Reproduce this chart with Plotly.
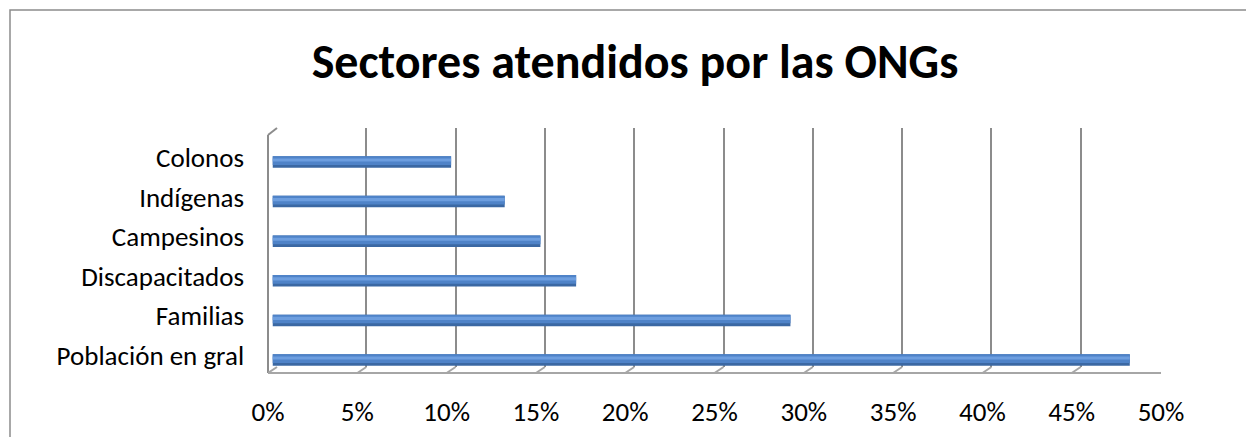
import plotly.graph_objects as go

categories = ["Población en gral", "Familias", "Discapacitados", "Campesinos", "Indígenas", "Colonos"]
values = [0.48, 0.29, 0.17, 0.15, 0.13, 0.10]
tick_vals = [0.0, 0.05, 0.10, 0.15, 0.20, 0.25, 0.30, 0.35, 0.40, 0.45, 0.50]
tick_text = ["0%", "5%", "10%", "15%", "20%", "25%", "30%", "35%", "40%", "45%", "50%"]
title_text = "Sectores atendidos por las ONGs"

W, H = 1246, 437
FONT = "Carlito, Lato, sans-serif"
GRID = "#8c8c8c"
FLOOR = "#a6a6a6"


def px(x):
    return x / W


def py(y):
    return 1 - y / H


fig = go.Figure()

# cylinder-like bars: dark base, mid body, light highlight
bar_layers = [
    (0.29, -0.145, "#3b68a3"),
    (0.22, -0.075, "#4f83c8"),
    (0.08, 0.01, "#6d9edf"),
]
for wdt, off, col in bar_layers:
    fig.add_trace(go.Bar(
        x=values, y=categories, orientation="h", xaxis="x3", yaxis="y3",
        width=wdt, offset=off, marker=dict(color=col, line=dict(width=0)),
        hoverinfo="skip", showlegend=False,
    ))
fig.add_trace(go.Scatter(
    x=[0] * len(categories), y=categories, xaxis="x3", yaxis="y4",
    mode="markers", marker=dict(opacity=0), hoverinfo="skip", showlegend=False,
))
fig.add_trace(go.Scatter(
    x=tick_vals, y=[0] * len(tick_vals), xaxis="x2", yaxis="y2",
    mode="markers", marker=dict(opacity=0), hoverinfo="skip", showlegend=False,
))
fig.add_trace(go.Scatter(
    x=tick_vals, y=[0] * len(tick_vals), xaxis="x", yaxis="y2",
    mode="markers", marker=dict(opacity=0), hoverinfo="skip", showlegend=False,
))

bar_top, bar_bot = 142.2, 379.8
lab_shift = 4.5

fig.update_layout(
    template="none",
    autosize=False,
    width=W, height=H,
    margin=dict(l=0, r=0, t=0, b=0, pad=0, autoexpand=False),
    paper_bgcolor="white", plot_bgcolor="rgba(0,0,0,0)",
    barmode="overlay",
    font=dict(family=FONT, color="#000000", size=20),
    title=dict(text="<b>" + title_text + "</b>", x=px(635), xanchor="center", xref="paper",
               y=py(61), yanchor="middle", yref="paper",
               font=dict(family=FONT, size=48, color="#000")),
    xaxis=dict(domain=[px(268), px(1161)], range=[0, 0.5], anchor="free", position=py(373),
               tickmode="array", tickvals=tick_vals, ticktext=tick_text, automargin=False,
               showgrid=False, zeroline=False, showline=True, linecolor=FLOOR, linewidth=2,
               ticks="outside", ticklen=15, tickcolor="rgba(0,0,0,0)",
               tickfont=dict(family=FONT, size=27, color="#000")),
    xaxis2=dict(domain=[px(277), px(1170)], range=[0, 0.5], anchor="y2", automargin=False,
                tickmode="array", tickvals=tick_vals, showticklabels=False, ticks="",
                showgrid=True, gridcolor=GRID, gridwidth=2, zeroline=False, showline=False),
    yaxis2=dict(domain=[py(367), py(128)], range=[0, 1], visible=False, automargin=False),
    xaxis3=dict(domain=[px(272.5), px(272.5 + 893)], range=[0, 0.5], anchor="y3",
                visible=False, showgrid=False, automargin=False),
    yaxis3=dict(domain=[py(bar_bot), py(bar_top)], type="category",
                categoryorder="array", categoryarray=categories, automargin=False,
                range=[-0.5, len(categories) - 0.5], visible=False, anchor="x3"),
    yaxis4=dict(domain=[py(bar_bot - lab_shift), py(bar_top - lab_shift)], type="category",
                categoryorder="array", categoryarray=categories, automargin=False,
                range=[-0.5, len(categories) - 0.5], anchor="x3",
                showgrid=False, zeroline=False, showline=False,
                ticks="outside", ticklen=22, tickcolor="rgba(0,0,0,0)",
                tickfont=dict(family=FONT, size=27, color="#000")),
)

shapes = []
shapes.append(dict(type="rect", xref="paper", yref="paper", x0=px(10), x1=px(1300),
                   y0=py(480), y1=py(10), line=dict(color="#8c8c8c", width=1.5)))
shapes.append(dict(type="line", xref="paper", yref="paper", x0=px(268), x1=px(268),
                   y0=py(373), y1=py(135), line=dict(color=GRID, width=2)))
shapes.append(dict(type="line", xref="paper", yref="paper", x0=px(268), x1=px(277),
                   y0=py(135), y1=py(128), line=dict(color=GRID, width=2)))
dx = 9 / 893 * 0.5
for v in tick_vals:
    shapes.append(dict(type="line", xref="x", yref="paper", x0=v, x1=v + dx,
                       y0=py(373), y1=py(367), line=dict(color=FLOOR, width=2)))
fig.update_layout(shapes=shapes)

fig.write_html(
    "out.html",
    config={"responsive": False, "displayModeBar": False, "staticPlot": True},
    post_script="document.body.style.margin='0';document.body.style.overflow='hidden';",
)
